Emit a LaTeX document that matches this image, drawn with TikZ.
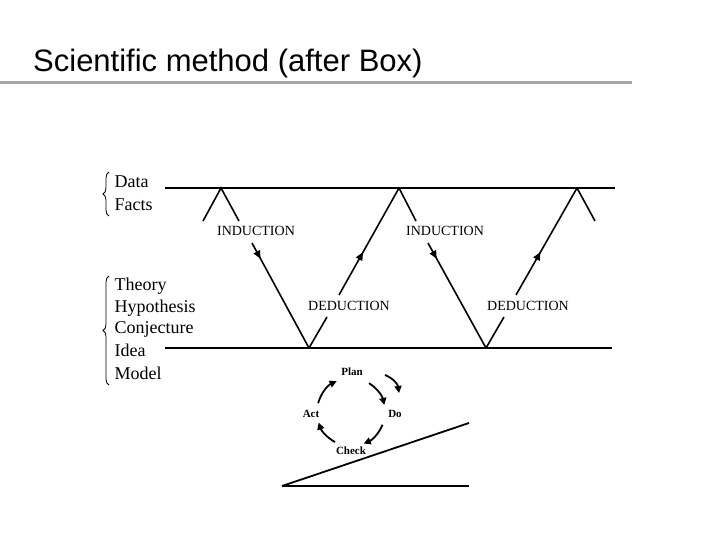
\documentclass[tikz,border=0pt]{standalone}
\usepackage{fontspec}
\setmainfont{Liberation Serif}
\newfontfamily\arial{Liberation Sans}
\usetikzlibrary{calc,decorations.markings,arrows.meta,decorations.pathreplacing}
\tikzset{
 leg/.style={line width=1.6pt},
 lab/.style={font=\fontsize{14}{14}\selectfont, anchor=center},
 side/.style={font=\fontsize{18}{19}\selectfont, anchor=west},
 cyc/.style={font=\bfseries\fontsize{11}{11}\selectfont},
 carr/.style={line width=1.8pt,-{Triangle[length=7pt,width=7pt]}},
 midarr/.style={postaction={decorate},decoration={markings,mark=at position #1 with {\arrow{Triangle[length=8pt,width=7pt]}}}}
}
\begin{document}
\begin{tikzpicture}[x=1pt,y=-1pt]
\useasboundingbox (0,0) rectangle (720,540);
\node[anchor=base west,font=\arial\fontsize{31}{31}\selectfont,inner sep=0pt] (title) at (33,72) {Scientific method (after Box)};
\draw[line width=3pt,gray!70] (0,83) -- (632,83);
\draw[line width=1.6pt] (165,188) -- (615,188);
\draw[line width=1.6pt] (165,348) -- (612,348);
\coordinate (p1) at (221,188); \coordinate (p2) at (399,188); \coordinate (p3) at (577,188);
\coordinate (v1) at (309,348); \coordinate (v2) at (486,348);
\draw[leg] (203,221) -- (p1) -- (239,221);
\draw[leg,midarr=0.15] (252,243) -- (v1);
\draw[leg] (v1) -- (327,317);
\draw[leg,midarr=0.4] (339,295) -- (p2);
\draw[leg] (p2) -- (416,221);
\draw[leg,midarr=0.15] (428,243) -- (v2);
\draw[leg] (v2) -- (504,317);
\draw[leg,midarr=0.4] (516,295) -- (p3);
\draw[leg] (p3) -- (595,221);
\node[lab] (i1) at (256,231) {INDUCTION};
\node[lab] (i2) at (445,231) {INDUCTION};
\node[lab] (d1) at (349,306) {DEDUCTION};
\node[lab] (d2) at (528,306) {DEDUCTION};
\draw[line width=0.8pt,decorate,decoration={brace,amplitude=6pt}] (109,216) -- (109,172);
\draw[line width=0.8pt,decorate,decoration={brace,amplitude=6pt}] (109,385) -- (109,276);
\node[side] (t1) at (111,182) {Data};
\node[side] (t2) at (111,205) {Facts};
\node[side] (t3) at (111,286) {Theory};
\node[side] (t4) at (111,308) {Hypothesis};
\node[side] (t5) at (111,329) {Conjecture};
\node[side] (t6) at (111,350) {Idea};
\node[side] (t7) at (111,373) {Model};
\coordinate (c) at (351,412);
\node[cyc] (plan) at (352,372) {Plan};
\node[cyc] (do) at (395,414) {Do};
\node[cyc] (check) at (351,451) {Check};
\node[cyc] (act) at (311,414) {Act};
\draw[carr] ($(c)+(-58:34)$) arc (-58:-12:34);
\draw[carr] ($(c)+(22:34)$) arc (22:68:34);
\draw[carr] ($(c)+(118:34)$) arc (118:162:34);
\draw[carr] ($(c)+(-165:34)$) arc (-165:-115:34);
\draw[carr] (385,375) to[bend left=30] (399,393);
\coordinate (w0) at (282,486);
\draw[line width=1.8pt] (w0) -- (469,423);
\draw[line width=1.8pt] (w0) -- (469,486);
\end{tikzpicture}
\end{document}
